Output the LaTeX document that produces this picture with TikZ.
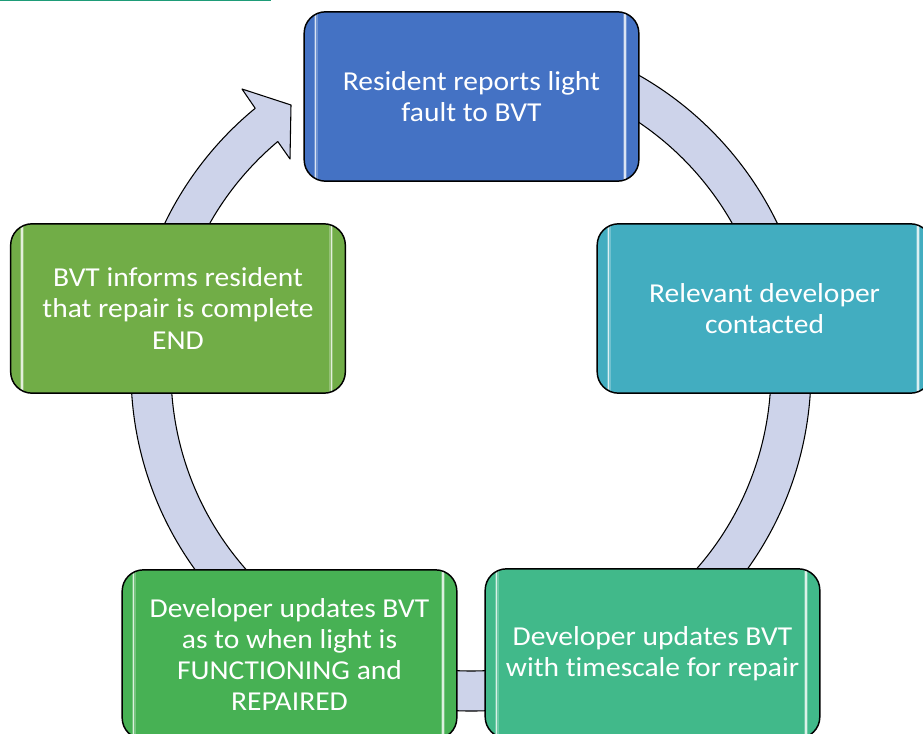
\documentclass[tikz,border=0pt]{standalone}
\usepackage{fontspec}
\setmainfont{Carlito}[FakeStretch=1.08, RawFeature={-liga;-clig;-calt;-dlig}]
\usetikzlibrary{calc}

\definecolor{stageA}{RGB}{68,114,196}
\definecolor{stageB}{RGB}{66,173,192}
\definecolor{stageC}{RGB}{65,185,138}
\definecolor{stageD}{RGB}{71,177,84}
\definecolor{stageE}{RGB}{113,173,71}
\definecolor{ringfill}{RGB}{205,211,234}
\definecolor{topline}{RGB}{30,156,120}

\tikzset{
  stagebox/.style={draw=black, line width=1.1pt, rounded corners=16pt,
    minimum width=251pt, minimum height=127pt, inner sep=0pt,
    text=white, align=center, font=\fontsize{20.5}{23.3}\selectfont,
    path picture={
      \draw[white, opacity=.25, line width=3pt, line cap=round]
        ([shift={(8.5pt,15pt)}]path picture bounding box.north west) -- ([shift={(8.5pt,-19pt)}]path picture bounding box.south west)
        ([shift={(-10.5pt,20pt)}]path picture bounding box.north east) -- ([shift={(-10.5pt,-14pt)}]path picture bounding box.south east);
      \draw[white, opacity=.75, line width=1pt, line cap=round]
        ([shift={(8.5pt,15pt)}]path picture bounding box.north west) -- ([shift={(8.5pt,-19pt)}]path picture bounding box.south west)
        ([shift={(-10.5pt,20pt)}]path picture bounding box.north east) -- ([shift={(-10.5pt,-14pt)}]path picture bounding box.south east);
    }},
  ringarrow/.style={draw=black, line width=0.8pt, fill=ringfill, line join=round},
}

\begin{document}
\begin{tikzpicture}[x=0.75pt,y=0.75pt,yscale=-1,xscale=1]
\useasboundingbox (0,0) rectangle (923,734);
\clip (0,0) rectangle (923,734);

%Straight Lines
\draw [color=topline, line width=1.1pt] (0,0.7) -- (271,0.7) ;

%Shape: Circular Arrow
\coordinate (hub) at (471,371);
\draw [ringarrow] ([shift={(-85:340)}]hub) arc[start angle=-85, end angle=230.6, radius=340]
  -- (242,89) -- (291,105) -- (290,159)
  -- ([shift={(229.9:300)}]hub) arc[start angle=229.9, end angle=-85, radius=300] -- cycle ;

% Stage Nodes
\node [stagebox, fill=stageA] (report) at (471.5,96.5) {Resident reports light\\fault to BVT};
\node [stagebox, fill=stageB] (contact) at (764.5,308.5) {Relevant developer\\contacted};
\node [stagebox, fill=stageC] (timescale) at (652.5,653.5) {Developer updates BVT\\with timescale for repair};
\node [stagebox, fill=stageD] (repaired) at (289.5,654.5) {Developer updates BVT\\as to when light is\\FUNCTIONING and\\REPAIRED};
\node [stagebox, fill=stageE] (inform) at (178,308.5) {BVT informs resident\\that repair is complete\\END};
\end{tikzpicture}
\end{document}
